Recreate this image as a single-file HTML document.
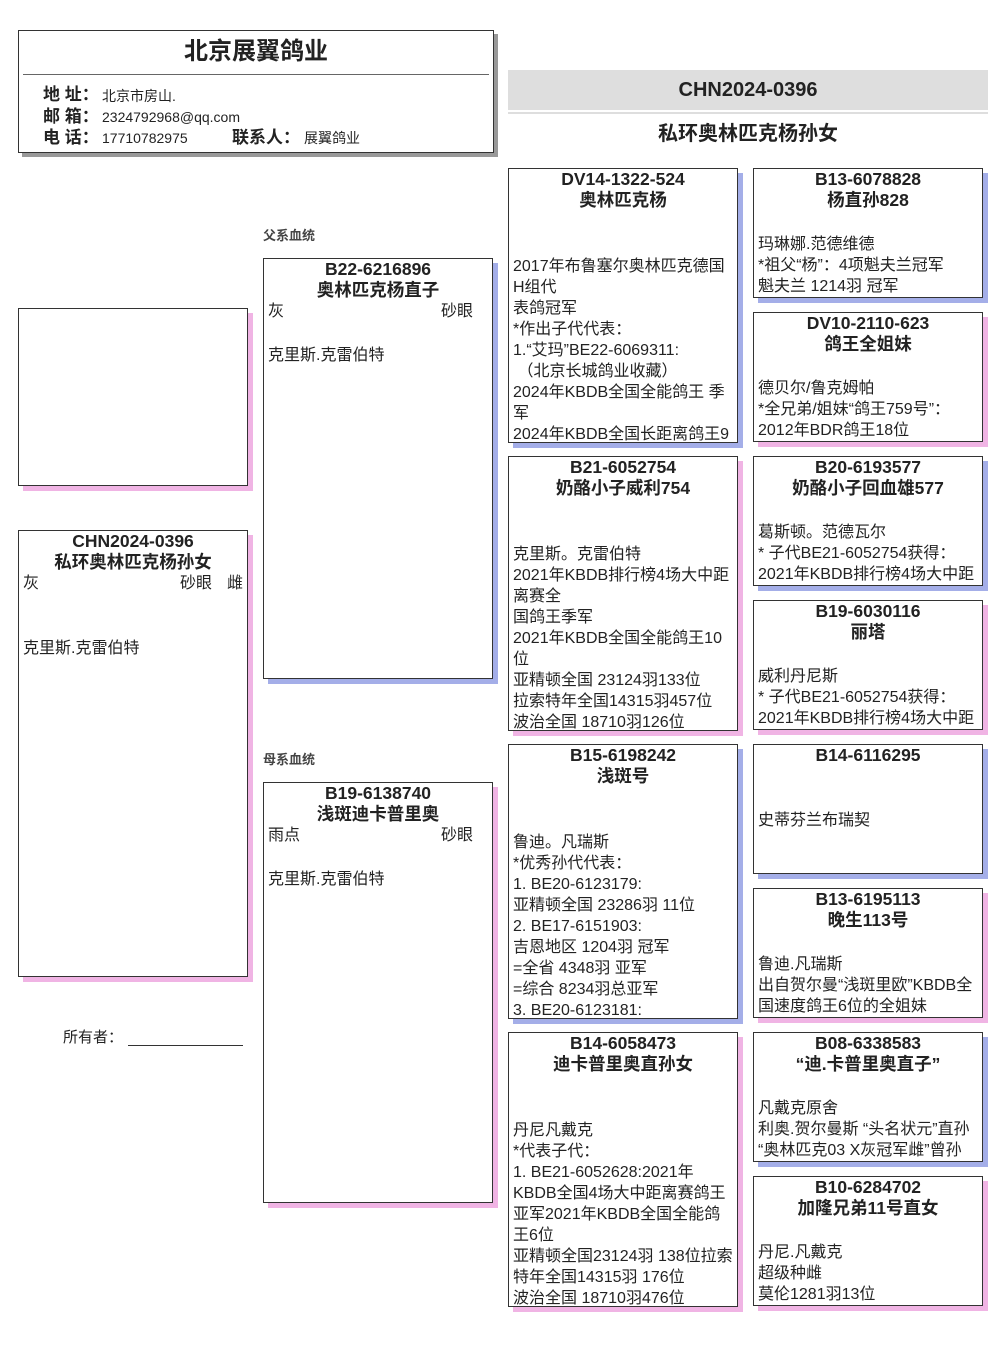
<!DOCTYPE html>
<html><head><meta charset="utf-8"><style>
*{margin:0;padding:0;box-sizing:border-box}
body{width:1006px;height:1366px;background:#fff;position:relative;font-family:"Liberation Sans","Noto Sans CJK SC",sans-serif;color:#222;overflow:hidden}
.b{position:absolute;border:1px solid #333;background:#fff;overflow:hidden}
.bl{box-shadow:5px 5px 0 #a4aee8}
.pk{box-shadow:5px 5px 0 #f0b4e4}
.h{font-weight:bold;font-size:17.5px;line-height:21px;text-align:center;white-space:nowrap}
.t{font-size:16px;line-height:21px;padding-left:4px;white-space:nowrap}
.c4{margin-top:23px}
.c3{margin-top:45px}
.a{position:absolute;white-space:nowrap}
</style></head><body>

<div class="b" style="left:18px;top:30px;width:476px;height:123px;box-shadow:4px 4px 0 #999">
<div class="a" style="left:0;width:474px;top:6px;text-align:center;font-size:24px;font-weight:bold;line-height:30px">北京展翼鸽业</div>
<div class="a" style="left:4px;top:43px;width:466px;border-top:1px solid #666"></div>
<div class="a" style="left:24px;top:53px;font-size:17px;font-weight:bold;line-height:21px">地 址：</div>
<div class="a" style="left:83px;top:56px;font-size:14px;line-height:18px">北京市房山.</div>
<div class="a" style="left:24px;top:75px;font-size:17px;font-weight:bold;line-height:21px">邮 箱：</div>
<div class="a" style="left:83px;top:77px;font-size:14px;line-height:18px">2324792968@qq.com</div>
<div class="a" style="left:24px;top:96px;font-size:17px;font-weight:bold;line-height:21px">电 话：</div>
<div class="a" style="left:83px;top:98px;font-size:14px;line-height:18px">17710782975</div>
<div class="a" style="left:213px;top:96px;font-size:17px;font-weight:bold;line-height:21px">联系人：</div>
<div class="a" style="left:285px;top:98px;font-size:14px;line-height:18px">展翼鸽业</div>
</div>

<div class="a" style="left:508px;top:70px;width:480px;height:40px;background:#dedede;text-align:center;font-size:20px;font-weight:bold;line-height:40px">CHN2024-0396</div>
<div class="a" style="left:508px;top:112px;width:480px;height:2px;background:#dedede"></div>
<div class="a" style="left:508px;top:121px;width:480px;text-align:center;font-size:20px;font-weight:bold;line-height:26px">私环奥林匹克杨孙女</div>

<div class="b pk" style="left:18px;top:308px;width:230px;height:178px"></div>

<div class="b pk" style="left:18px;top:530px;width:230px;height:447px">
<div class="h">CHN2024-0396<br>私环奥林匹克杨孙女</div>
<div class="t" style="position:relative">灰<span style="position:absolute;left:161px">砂眼</span><span style="position:absolute;left:208px">雌</span></div>
<div class="t" style="margin-top:44px">克里斯.克雷伯特</div>
</div>

<div class="a" style="left:63px;top:1028px;font-size:15px;line-height:20px">所有者：</div>
<div class="a" style="left:128px;top:1045px;width:115px;border-top:1px solid #333"></div>

<div class="a" style="left:263px;top:225px;font-size:13px;font-weight:bold;color:#444">父系血统</div>
<div class="b bl" style="left:263px;top:258px;width:230px;height:421px">
<div class="h">B22-6216896<br>奥林匹克杨直子</div>
<div class="t" style="position:relative">灰<span style="position:absolute;left:177px">砂眼</span></div>
<div class="t" style="margin-top:23px">克里斯.克雷伯特</div>
</div>

<div class="a" style="left:263px;top:749px;font-size:13px;font-weight:bold;color:#444">母系血统</div>
<div class="b pk" style="left:263px;top:782px;width:230px;height:421px">
<div class="h">B19-6138740<br>浅斑迪卡普里奥</div>
<div class="t" style="position:relative">雨点<span style="position:absolute;left:177px">砂眼</span></div>
<div class="t" style="margin-top:23px">克里斯.克雷伯特</div>
</div>

<div class="b bl" style="left:508px;top:168px;width:230px;height:275px">
<div class="h">DV14-1322-524<br>奥林匹克杨</div>
<div class="t c3">2017年布鲁塞尔奥林匹克德国<br>H组代<br>表鸽冠军<br>*作出子代代表：<br>1.“艾玛”BE22-6069311:<br>&nbsp;（北京长城鸽业收藏）<br>2024年KBDB全国全能鸽王 季<br>军<br>2024年KBDB全国长距离鸽王9</div>
</div>
<div class="b pk" style="left:508px;top:456px;width:230px;height:275px">
<div class="h">B21-6052754<br>奶酪小子威利754</div>
<div class="t c3">克里斯。克雷伯特<br>2021年KBDB排行榜4场大中距<br>离赛全<br>国鸽王季军<br>2021年KBDB全国全能鸽王10<br>位<br>亚精顿全国 23124羽133位<br>拉索特年全国14315羽457位<br>波治全国 18710羽126位</div>
</div>
<div class="b bl" style="left:508px;top:744px;width:230px;height:275px">
<div class="h">B15-6198242<br>浅斑号</div>
<div class="t c3">鲁迪。凡瑞斯<br>*优秀孙代代表：<br>1. BE20-6123179:<br>亚精顿全国 23286羽 11位<br>2. BE17-6151903:<br>吉恩地区 1204羽 冠军<br>=全省 4348羽 亚军<br>=综合 8234羽总亚军<br>3. BE20-6123181:</div>
</div>
<div class="b pk" style="left:508px;top:1032px;width:230px;height:275px">
<div class="h">B14-6058473<br>迪卡普里奥直孙女</div>
<div class="t c3">丹尼凡戴克<br>*代表子代：<br>1. BE21-6052628:2021年<br>KBDB全国4场大中距离赛鸽王<br>亚军2021年KBDB全国全能鸽<br>王6位<br>亚精顿全国23124羽 138位拉索<br>特年全国14315羽 176位<br>波治全国 18710羽476位</div>
</div>

<div class="b bl" style="left:753px;top:168px;width:230px;height:130px">
<div class="h">B13-6078828<br>杨直孙828</div>
<div class="t c4">玛琳娜.范德维德<br>*祖父“杨”：4项魁夫兰冠军<br>魁夫兰 1214羽 冠军</div>
</div>
<div class="b pk" style="left:753px;top:312px;width:230px;height:130px">
<div class="h">DV10-2110-623<br>鸽王全姐妹</div>
<div class="t c4">德贝尔/鲁克姆帕<br>*全兄弟/姐妹“鸽王759号”：<br>2012年BDR鸽王18位</div>
</div>
<div class="b bl" style="left:753px;top:456px;width:230px;height:130px">
<div class="h">B20-6193577<br>奶酪小子回血雄577</div>
<div class="t c4">葛斯顿。范德瓦尔<br>* 子代BE21-6052754获得：<br>2021年KBDB排行榜4场大中距</div>
</div>
<div class="b pk" style="left:753px;top:600px;width:230px;height:130px">
<div class="h">B19-6030116<br>丽塔</div>
<div class="t c4">威利丹尼斯<br>* 子代BE21-6052754获得：<br>2021年KBDB排行榜4场大中距</div>
</div>
<div class="b bl" style="left:753px;top:744px;width:230px;height:130px">
<div class="h">B14-6116295<br>&nbsp;</div>
<div class="t c4">史蒂芬兰布瑞契</div>
</div>
<div class="b pk" style="left:753px;top:888px;width:230px;height:130px">
<div class="h">B13-6195113<br>晚生113号</div>
<div class="t c4">鲁迪.凡瑞斯<br>出自贺尔曼“浅斑里欧”KBDB全<br>国速度鸽王6位的全姐妹</div>
</div>
<div class="b bl" style="left:753px;top:1032px;width:230px;height:130px">
<div class="h">B08-6338583<br>“迪.卡普里奥直子”</div>
<div class="t c4">凡戴克原舍<br>利奥.贺尔曼斯 “头名状元”直孙<br>“奥林匹克03 X灰冠军雌”曾孙</div>
</div>
<div class="b pk" style="left:753px;top:1176px;width:230px;height:130px">
<div class="h">B10-6284702<br>加隆兄弟11号直女</div>
<div class="t c4">丹尼.凡戴克<br>超级种雌<br>莫伦1281羽13位</div>
</div>

</body></html>
